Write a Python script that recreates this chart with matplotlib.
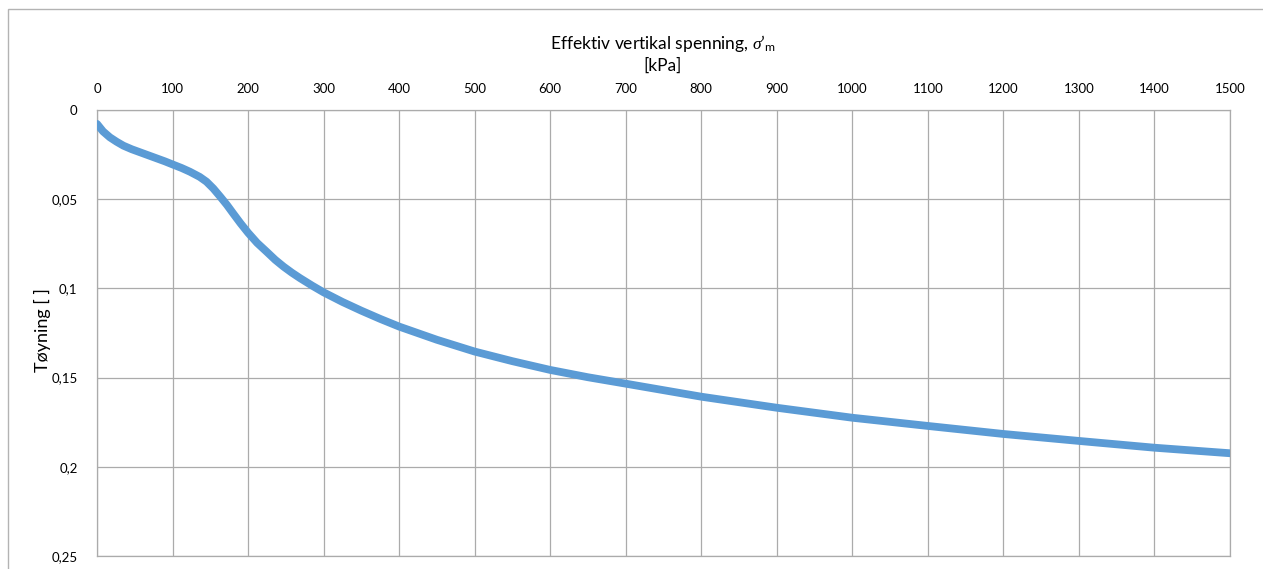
import matplotlib
matplotlib.use("Agg")
import matplotlib.pyplot as plt
from matplotlib.patches import Rectangle

# Oedometer curve: effective vertical stress [kPa] vs strain [-]
stress_kpa = [0, 8, 17, 26, 35, 46, 57, 68, 79, 90, 100, 112, 123, 136, 145,
              154, 163, 172, 181, 190, 200, 212, 225, 236, 247, 258, 269, 285,
              300, 325, 350, 375, 400, 450, 500, 550, 600, 650, 700, 800, 900,
              1000, 1100, 1200, 1300, 1400, 1500]
strain = [0.0078, 0.0120, 0.0153, 0.0178, 0.0200, 0.0220, 0.0237, 0.0254,
          0.0271, 0.0288, 0.0305, 0.0325, 0.0346, 0.0375, 0.0402, 0.0440,
          0.0485, 0.0532, 0.0584, 0.0635, 0.0688, 0.0745, 0.0796, 0.0840,
          0.0878, 0.0912, 0.0943, 0.0985, 0.1022, 0.1076, 0.1125, 0.1171,
          0.1214, 0.1288, 0.1354, 0.1408, 0.1457, 0.1498, 0.1534, 0.1607,
          0.1669, 0.1725, 0.1771, 0.1816, 0.1855, 0.1893, 0.1924]

x_ticks = list(range(0, 1501, 100))
y_ticks = [0, 0.05, 0.1, 0.15, 0.2, 0.25]
y_tick_labels = ["0", "0,05", "0,1", "0,15", "0,2", "0,25"]

plt.rcParams["font.family"] = ["Lato", "DejaVu Sans"]
plt.rcParams["mathtext.fontset"] = "custom"
plt.rcParams["mathtext.rm"] = "Lato"
plt.rcParams["mathtext.it"] = "Liberation Serif:italic"

W, H = 1263, 569
fig = plt.figure(figsize=(W / 100, H / 100), dpi=100)

# chart-area border (left and top edges visible)
fig.patches.append(Rectangle((8 / W, -0.1), 1.2, 1 - 9 / H + 0.1,
                             transform=fig.transFigure, fill=False,
                             edgecolor="#B3B3B3", linewidth=1.0))

ax = fig.add_axes([97 / W, 1 - 556 / H, (1230 - 97) / W, (556 - 110) / H])

grid_col = "#ABABAB"
ax.plot(stress_kpa, strain, color="#5B9BD5", linewidth=5.6,
        solid_capstyle="round", solid_joinstyle="round", zorder=3)

ax.set_xlim(0, 1500)
ax.set_ylim(0.25, 0)
ax.xaxis.tick_top()
ax.set_xticks(x_ticks)
ax.set_xticklabels([str(v) for v in x_ticks])
ax.set_yticks(y_ticks)
ax.set_yticklabels(y_tick_labels)
ax.tick_params(length=0, labelsize=9.5, colors="black")
ax.tick_params(axis="x", pad=11)
ax.tick_params(axis="y", pad=14)
ax.grid(True, color=grid_col, linewidth=0.9)
ax.set_axisbelow(True)
for sp in ax.spines.values():
    sp.set_color(grid_col)
    sp.set_linewidth(0.9)

fig.text(663 / W, 1 - 43 / H,
         r"Effektiv vertikal spenning, $\sigma\mathrm{’}_{\mathrm{m}}$",
         ha="center", va="center", fontsize=12.5)
fig.text(663 / W, 1 - 66 / H, "[kPa]", ha="center", va="center", fontsize=12.5)
fig.text(42 / W, 1 - 330 / H, "Tøyning [ ]", ha="center", va="center",
         rotation=90, fontsize=13)

fig.savefig("out.png", dpi=100)
